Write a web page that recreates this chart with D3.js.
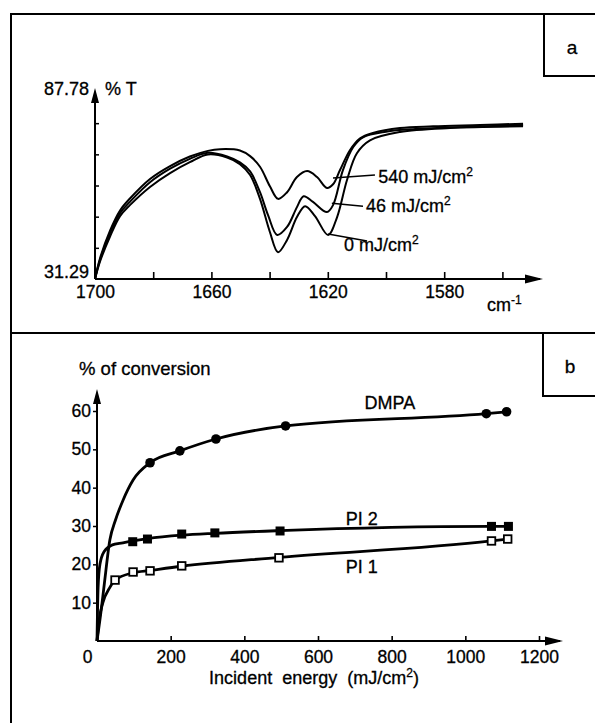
<!DOCTYPE html>
<html>
<head>
<meta charset="utf-8">
<script src="https://cdn.jsdelivr.net/npm/d3@7"></script>
<style>
  body { margin: 0; background: #fff; }
  svg { display: block; }
  text { font-family: "Liberation Sans", Arial, sans-serif; fill: #000; stroke: #000; stroke-width: 0.3px; }
</style>
</head>
<body>
<div id="chart"></div>
<script>
// ---- panel a : IR spectra, wavenumber (cm-1) vs % T ----
const waveTicks = [1700, 1680, 1660, 1640, 1620, 1600, 1580, 1560];
const waveLabels = [1700, 1660, 1620, 1580];
const tMin = 31.29, tMax = 87.78;

const spec540 = [[1700,31.29],[1698.3,37.5],[1694.8,46],[1691.4,52],[1688,55.6],[1681.1,61.5],[1674.2,65.4],
  [1667.4,68.3],[1661.2,70.0],[1657,70.5],[1650.2,70.1],[1646.7,68.4],[1643.3,65.2],[1639.9,59.3],[1637.1,55.5],
  [1634.0,57.5],[1630.6,62.1],[1627.1,63.9],[1623.7,62.1],[1620.3,58.8],[1618.2,59.9],[1615.8,64.2],[1612.4,70.2],
  [1608.9,73.8],[1604.5,75.4],[1595.2,76.9],[1583.8,77.4],[1567.7,77.8],[1552.9,78.2]];
const spec46 = [[1700,31.29],[1698.3,37],[1694.8,45.2],[1691.4,51.2],[1688,54.6],[1681.1,60.5],[1674.2,64.6],
  [1667.4,67.6],[1661.2,69.4],[1654.6,68.3],[1650.2,66.5],[1646.7,63.8],[1643.3,57.5],[1640.5,50.5],[1637.4,44.6],
  [1634,47.0],[1630.6,53.0],[1628.3,56.3],[1625.1,54.6],[1620.3,51.5],[1618.2,53.6],[1614.8,64.2],[1611.3,71.1],
  [1607.9,74.1],[1600,75.8],[1590,76.6],[1570,77.3],[1552.9,77.8]];
const spec0 = [[1700,31.29],[1698.3,36.5],[1694.8,44.2],[1691.4,50.3],[1688,53.6],[1681.1,59.1],[1674.2,63.3],
  [1667.4,66.6],[1661.2,68.9],[1654.6,68.0],[1650.2,66.0],[1646.7,62.7],[1643.3,55.5],[1639.9,45.5],[1637.1,39.4],
  [1634,43.1],[1630.6,50.0],[1627.8,53.3],[1624.4,50.3],[1619.9,44.6],[1616.8,50.0],[1613.4,61.2],[1610,69.3],
  [1605.5,73.2],[1595.2,75.7],[1578,76.9],[1552.9,77.4]];

// label text, leader start [wave, %T], leader end, label anchor
const specNames = ["540 mJ/cm", "46 mJ/cm", "0 mJ/cm"];
const leaderFrom = [[1618.2,61.8],[1618.6,54.2],[1619.9,44.9]];
const leaderTo = [[1603.8,62.7],[1607.9,53.3],[1606.5,42.8]];
const labelAt = [[1602.7,62.1],[1606.9,53.3],[1614.4,41.5]];

// ---- panel b : % of conversion vs incident energy ----
const energyTicks = [0, 200, 400, 600, 800, 1000, 1200];
const convTicks = [10, 20, 30, 40, 50, 60];

const dmpaE = [144, 225, 323, 512, 1057, 1112];
const dmpaC = [46.5, 49.6, 52.7, 56.1, 59.3, 59.8];
const pi2E = [97, 137, 230, 320, 497, 1071, 1117];
const pi2C = [25.9, 26.6, 27.9, 28.2, 28.7, 29.9, 29.9];
const pi1E = [49, 98, 144, 230, 494, 1071, 1115];
const pi1C = [15.9, 18.0, 18.3, 19.6, 21.7, 26.1, 26.6];

// fitted curves as traced on the figure (start at origin)
const dmpaFit = [[0,0],[10,7],[20,15],[35,26.4],[50,31.5],[71,36.8],[98,42],[144,46.5],[225,49.6],[323,52.7],[512,56.1],[1057,59.3],[1112,59.8]];
const pi2Fit = [[0,0],[3,14],[8,20],[20,23.4],[40,25],[70,25.6],[97,26.1],[137,26.7],[230,27.6],[320,28.1],[497,28.8],[1071,29.9],[1117,29.9]];
const pi1Fit = [[0,0],[5,5],[16,10],[35,14],[49,15.9],[98,17.8],[144,18.4],[230,19.5],[494,21.8],[1071,26.1],[1115,26.6]];

const W = 595, H = 723;
const svg = d3.select("#chart").append("svg").attr("width", W).attr("height", H);

// frame + panel letter boxes
const frame = svg.append("g").attr("stroke", "#000").attr("stroke-width", 2).attr("fill", "none");
frame.append("path").attr("d", "M595,14H11V723");
frame.append("path").attr("d", "M11,333H595");
frame.append("path").attr("d", "M544,14V76H595");
frame.append("path").attr("d", "M543,333V396H595");
svg.append("text").attr("x", 572).attr("y", 54).attr("text-anchor", "middle").style("font-size", "19px").text("a");
svg.append("text").attr("x", 570).attr("y", 373).attr("text-anchor", "middle").style("font-size", "19px").text("b");

function arrowUp(g, x, y) {
  g.append("path").attr("d", `M${x},${y}l-4,15h8z`).attr("fill", "#000");
}
function arrowRight(g, x, y) {
  g.append("path").attr("d", `M${x},${y}l-18,-4.5v9z`).attr("fill", "#000");
}

// ---------- panel a ----------
const xA = d3.scaleLinear().domain([1700, 1560]).range([95, 502.4]);
const yA = d3.scaleLinear().domain([tMin, tMax]).range([279, 92]);
const ga = svg.append("g");

ga.append("g")
  .attr("transform", "translate(0,279)")
  .call(d3.axisBottom(xA).tickValues(waveTicks).tickSizeInner(-7).tickSizeOuter(0).tickPadding(7)
    .tickFormat(d => waveLabels.includes(d) ? d : ""))
  .call(g => g.select(".domain").remove())
  .call(g => g.selectAll("line").attr("stroke-width", 1.6))
  .call(g => g.selectAll("text").style("font-size", "17.5px").attr("font-family", null));
ga.append("line").attr("x1", 95).attr("x2", 540).attr("y1", 279).attr("y2", 279)
  .attr("stroke", "#000").attr("stroke-width", 2);
arrowRight(ga, 543, 279);

const tStep = (tMax - tMin) / 6;
ga.append("g")
  .attr("transform", "translate(95,0)")
  .call(d3.axisLeft(yA).tickValues(d3.range(1, 6).map(i => tMin + i * tStep)).tickSizeInner(-4).tickSizeOuter(0).tickFormat(""))
  .call(g => g.select(".domain").remove())
  .call(g => g.selectAll("line").attr("stroke-width", 1.5));
ga.append("line").attr("x1", 95).attr("x2", 95).attr("y1", 279).attr("y2", 95)
  .attr("stroke", "#000").attr("stroke-width", 2);
arrowUp(ga, 95, 88);

ga.append("text").attr("x", 89).attr("y", yA(tMax) + 3).attr("text-anchor", "end").style("font-size", "18px").text("87.78");
ga.append("text").attr("x", 89).attr("y", yA(tMin) - 1).attr("text-anchor", "end").style("font-size", "18px").text("31.29");
ga.append("text").attr("x", 105).attr("y", 95).style("font-size", "18px").text("% T");
const cmT = ga.append("text").attr("x", 487).attr("y", 311).style("font-size", "18px");
cmT.append("tspan").text("cm");
cmT.append("tspan").attr("dy", -7).style("font-size", "12px").text("-1");

const lineA = d3.line().x(d => xA(d[0])).y(d => yA(d[1])).curve(d3.curveCatmullRom.alpha(0.5));
[spec540, spec46, spec0].forEach(s => {
  ga.append("path").datum(s).attr("d", lineA).attr("fill", "none")
    .attr("stroke", "#000").attr("stroke-width", 2);
});

specNames.forEach((name, i) => {
  ga.append("line")
    .attr("x1", xA(leaderFrom[i][0])).attr("y1", yA(leaderFrom[i][1]))
    .attr("x2", xA(leaderTo[i][0])).attr("y2", yA(leaderTo[i][1]))
    .attr("stroke", "#000").attr("stroke-width", 1.5);
  const t = ga.append("text").attr("x", xA(labelAt[i][0])).attr("y", yA(labelAt[i][1]) + 6).style("font-size", "18px");
  t.append("tspan").text(name);
  t.append("tspan").attr("dy", -7).style("font-size", "12px").text("2");
});

// ---------- panel b ----------
const xB = d3.scaleLinear().domain([0, 1200]).range([97, 539]);
const yB = d3.scaleLinear().domain([0, 60]).range([641, 411]);
const gb = svg.append("g");

gb.append("g")
  .attr("transform", "translate(0,641)")
  .call(d3.axisBottom(xB).tickValues(energyTicks).tickSizeInner(-5).tickSizeOuter(0).tickPadding(10).tickFormat(d3.format("d")))
  .call(g => g.select(".domain").remove())
  .call(g => g.selectAll("line").attr("stroke-width", 1.6))
  .call(g => g.selectAll("text").style("font-size", "17.5px").attr("font-family", null)
    .attr("dx", d => d === 0 ? -10 : 0));
gb.append("line").attr("x1", 97).attr("x2", 560).attr("y1", 641).attr("y2", 641)
  .attr("stroke", "#000").attr("stroke-width", 2);
arrowRight(gb, 563, 641);

gb.append("g")
  .attr("transform", "translate(97,0)")
  .call(d3.axisLeft(yB).tickValues(convTicks).tickSizeInner(4).tickSizeOuter(0).tickPadding(2))
  .call(g => g.select(".domain").remove())
  .call(g => g.selectAll("line").attr("stroke-width", 1.5))
  .call(g => g.selectAll("text").style("font-size", "17.5px").attr("font-family", null));
gb.append("line").attr("x1", 97).attr("x2", 97).attr("y1", 641).attr("y2", 395)
  .attr("stroke", "#000").attr("stroke-width", 2);
arrowUp(gb, 97, 389);

gb.append("text").attr("x", 79).attr("y", 375).style("font-size", "18.5px").text("% of conversion");
const xl = gb.append("text").attr("x", 314).attr("y", 684).attr("text-anchor", "middle")
  .style("font-size", "18px").style("white-space", "pre");
xl.append("tspan").text("Incident  energy  (mJ/cm");
xl.append("tspan").attr("dy", -7).style("font-size", "12px").text("2");
xl.append("tspan").attr("dy", 7).text(")");

const lineB = d3.line().x(d => xB(d[0])).y(d => yB(d[1])).curve(d3.curveMonotoneX);
[dmpaFit, pi2Fit, pi1Fit].forEach(s => {
  gb.append("path").datum(s).attr("d", lineB).attr("fill", "none")
    .attr("stroke", "#000").attr("stroke-width", 2.8).attr("stroke-linejoin", "round");
});

gb.selectAll(".dmpa").data(dmpaE).enter().append("circle")
  .attr("cx", d => xB(d)).attr("cy", (d, i) => yB(dmpaC[i])).attr("r", 4.8).attr("fill", "#000");
gb.selectAll(".pi2").data(pi2E).enter().append("rect")
  .attr("x", d => xB(d) - 4.5).attr("y", (d, i) => yB(pi2C[i]) - 4.5)
  .attr("width", 9).attr("height", 9).attr("fill", "#000");
gb.selectAll(".pi1").data(pi1E).enter().append("rect")
  .attr("x", d => xB(d) - 3.8).attr("y", (d, i) => yB(pi1C[i]) - 3.8)
  .attr("width", 7.6).attr("height", 7.6).attr("fill", "#fff").attr("stroke", "#000").attr("stroke-width", 1.8);

const seriesNames = ["DMPA", "PI 2", "PI 1"];
const seriesLabelAt = [[795, 60.5], [719, 30.3], [719, 17.7]];
seriesNames.forEach((n, i) => {
  gb.append("text").attr("x", xB(seriesLabelAt[i][0])).attr("y", yB(seriesLabelAt[i][1]))
    .attr("text-anchor", "middle").style("font-size", "18px").text(n);
});
</script>
</body>
</html>
